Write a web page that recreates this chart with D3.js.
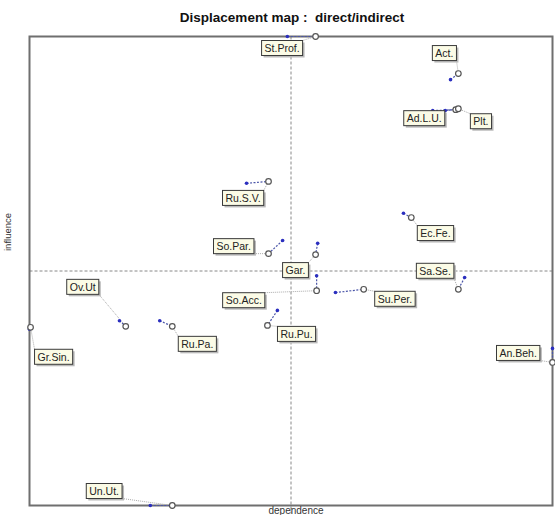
<!DOCTYPE html>
<html>
<head>
<meta charset="utf-8">
<script src="https://cdn.jsdelivr.net/npm/d3@7"></script>
<style>
  html, body { margin: 0; padding: 0; background: #fff; }
  svg { display: block; font-family: "Liberation Sans", Arial, sans-serif; }
</style>
</head>
<body>
<svg id="chart" width="555" height="515"></svg>
<script>
// Variables of the structural analysis and their positions on the
// influence / dependence plane (0–100 scale), direct and indirect.
const variables = ["St.Prof.", "Act.", "Ad.L.U.", "Plt.", "Ru.S.V.", "So.Par.", "Gar.",
  "So.Acc.", "Su.Per.", "Ru.Pu.", "Sa.Se.", "Ec.Fe.", "Ov.Ut", "Ru.Pa.", "Gr.Sin.", "An.Beh.", "Un.Ut."];
const directDependence   = [49.3, 80.5, 77.1, 79.5, 41.5, 48.4, 55.1, 54.9, 58.5, 47.4, 83.2, 71.5, 17.2, 24.9, 0.0, 100.0, 23.1];
const directInfluence    = [100.0, 90.8, 84.2, 84.2, 68.7, 56.5, 55.9, 49.0, 45.4, 41.6, 48.6, 62.3, 39.4, 39.4, 37.6, 33.5, 0.0];
const indirectDependence = [54.7, 82.0, 81.5, 82.0, 45.7, 45.7, 54.7, 54.9, 63.9, 45.5, 82.0, 73.0, 18.4, 27.3, 0.2, 100.0, 27.3];
const indirectInfluence  = [100.0, 92.1, 84.4, 84.6, 69.1, 53.7, 53.5, 45.8, 46.1, 38.4, 46.1, 61.4, 38.2, 38.2, 38.0, 30.5, 0.0];

// Label box placement relative to the indirect marker (pixels)
const labelOffset = {
  "St.Prof.": [-54, 4], "Act.": [-26, -28], "Ad.L.U.": [-52, 1], "Plt.": [12, 5],
  "Ru.S.V.": [-46, 9], "So.Par.": [-55, -15], "Gar.": [-33, 8], "So.Acc.": [-94, 2],
  "Su.Per.": [11, 2], "Ru.Pu.": [10, 1], "Sa.Se.": [-42, -26], "Ec.Fe.": [6, 8],
  "Ov.Ut": [-59, -47], "Ru.Pa.": [6, 10], "Gr.Sin.": [4, 22], "An.Beh.": [-56, -17],
  "Un.Ut.": [-86, -22]
};

const frame = { left: 29.5, top: 36.5, right: 552.5, bottom: 505.5 };
const svg = d3.select("#chart");

const x = d3.scaleLinear().domain([0, 100]).range([frame.left, frame.right]);
const y = d3.scaleLinear().domain([0, 100]).range([frame.bottom, frame.top]);

// Title
svg.append("text")
  .attr("x", 292).attr("y", 22)
  .attr("text-anchor", "middle")
  .attr("font-size", 13.5).attr("font-weight", "bold").attr("fill", "#111")
  .attr("xml:space", "preserve")
  .text("Displacement map :  direct/indirect");

// Quadrant crosshair at the mean
svg.append("line")
  .attr("x1", x(50)).attr("x2", x(50)).attr("y1", frame.top).attr("y2", frame.bottom + 8)
  .attr("stroke", "#888").attr("stroke-dasharray", "3,2").attr("stroke-width", 1);
svg.append("line")
  .attr("x1", frame.left).attr("x2", frame.right).attr("y1", y(50)).attr("y2", y(50))
  .attr("stroke", "#888").attr("stroke-dasharray", "3,2").attr("stroke-width", 1);

// Frame
svg.append("rect")
  .attr("x", frame.left).attr("y", frame.top)
  .attr("width", frame.right - frame.left).attr("height", frame.bottom - frame.top)
  .attr("fill", "none").attr("stroke", "#6f6f6f").attr("stroke-width", 2);

// Axis titles
svg.append("text")
  .attr("x", 296).attr("y", 514)
  .attr("text-anchor", "middle").attr("font-size", 10).attr("fill", "#333")
  .text("dependence");
svg.append("text")
  .attr("transform", `translate(11,232) rotate(-90)`)
  .attr("text-anchor", "middle").attr("font-size", 9.5).attr("fill", "#333")
  .text("influence");

const data = variables.map((name, i) => ({
  name,
  dx: directDependence[i], dy: directInfluence[i],
  ix: indirectDependence[i], iy: indirectInfluence[i]
}));

const g = svg.append("g");

// Measure label widths
const measure = svg.append("text").attr("font-size", 10.5).attr("visibility", "hidden");
data.forEach(d => {
  measure.text(d.name);
  d.tw = measure.node().getComputedTextLength();
  d.bw = d.tw + 6;
  d.bh = 15;
  const o = labelOffset[d.name];
  d.bx = x(d.ix) + o[0];
  d.by = y(d.iy) + o[1];
});
measure.remove();

// Leader lines from label box to indirect marker
data.forEach(d => {
  const cx = x(d.ix), cy = y(d.iy);
  const px = Math.max(d.bx, Math.min(cx, d.bx + d.bw));
  const py = Math.max(d.by, Math.min(cy, d.by + d.bh));
  g.append("line")
    .attr("x1", px).attr("y1", py).attr("x2", cx).attr("y2", cy)
    .attr("stroke", "#aaa").attr("stroke-width", 1).attr("stroke-dasharray", "1,1");
});

// Displacement: direct -> indirect
g.selectAll("line.move").data(data).join("line")
  .attr("class", "move")
  .attr("x1", d => x(d.dx)).attr("y1", d => y(d.dy))
  .attr("x2", d => x(d.ix)).attr("y2", d => y(d.iy))
  .attr("stroke", "#4a55a8").attr("stroke-width", 1.2).attr("stroke-dasharray", "2,1.5");

// Direct position
g.selectAll("circle.direct").data(data).join("circle")
  .attr("class", "direct")
  .attr("cx", d => x(d.dx)).attr("cy", d => y(d.dy)).attr("r", 1.8)
  .attr("fill", "#2b2fbf");

// Indirect position
g.selectAll("circle.indirect").data(data).join("circle")
  .attr("class", "indirect")
  .attr("cx", d => x(d.ix)).attr("cy", d => y(d.iy)).attr("r", 2.8)
  .attr("fill", "#fff").attr("stroke", "#555").attr("stroke-width", 1.2);

// Label boxes
const lab = g.selectAll("g.label").data(data).join("g").attr("class", "label");
lab.append("rect")
  .attr("x", d => d.bx + 2).attr("y", d => d.by + 2)
  .attr("width", d => d.bw).attr("height", d => d.bh)
  .attr("fill", "#b9b9b9");
lab.append("rect")
  .attr("x", d => d.bx).attr("y", d => d.by)
  .attr("width", d => d.bw).attr("height", d => d.bh)
  .attr("fill", "#fbfbe6").attr("stroke", "#3a3a3a").attr("stroke-width", 1);
lab.append("text")
  .attr("x", d => d.bx + 3).attr("y", d => d.by + 11.5)
  .attr("font-size", 10.5).attr("fill", "#222")
  .text(d => d.name);
</script>
</body>
</html>
